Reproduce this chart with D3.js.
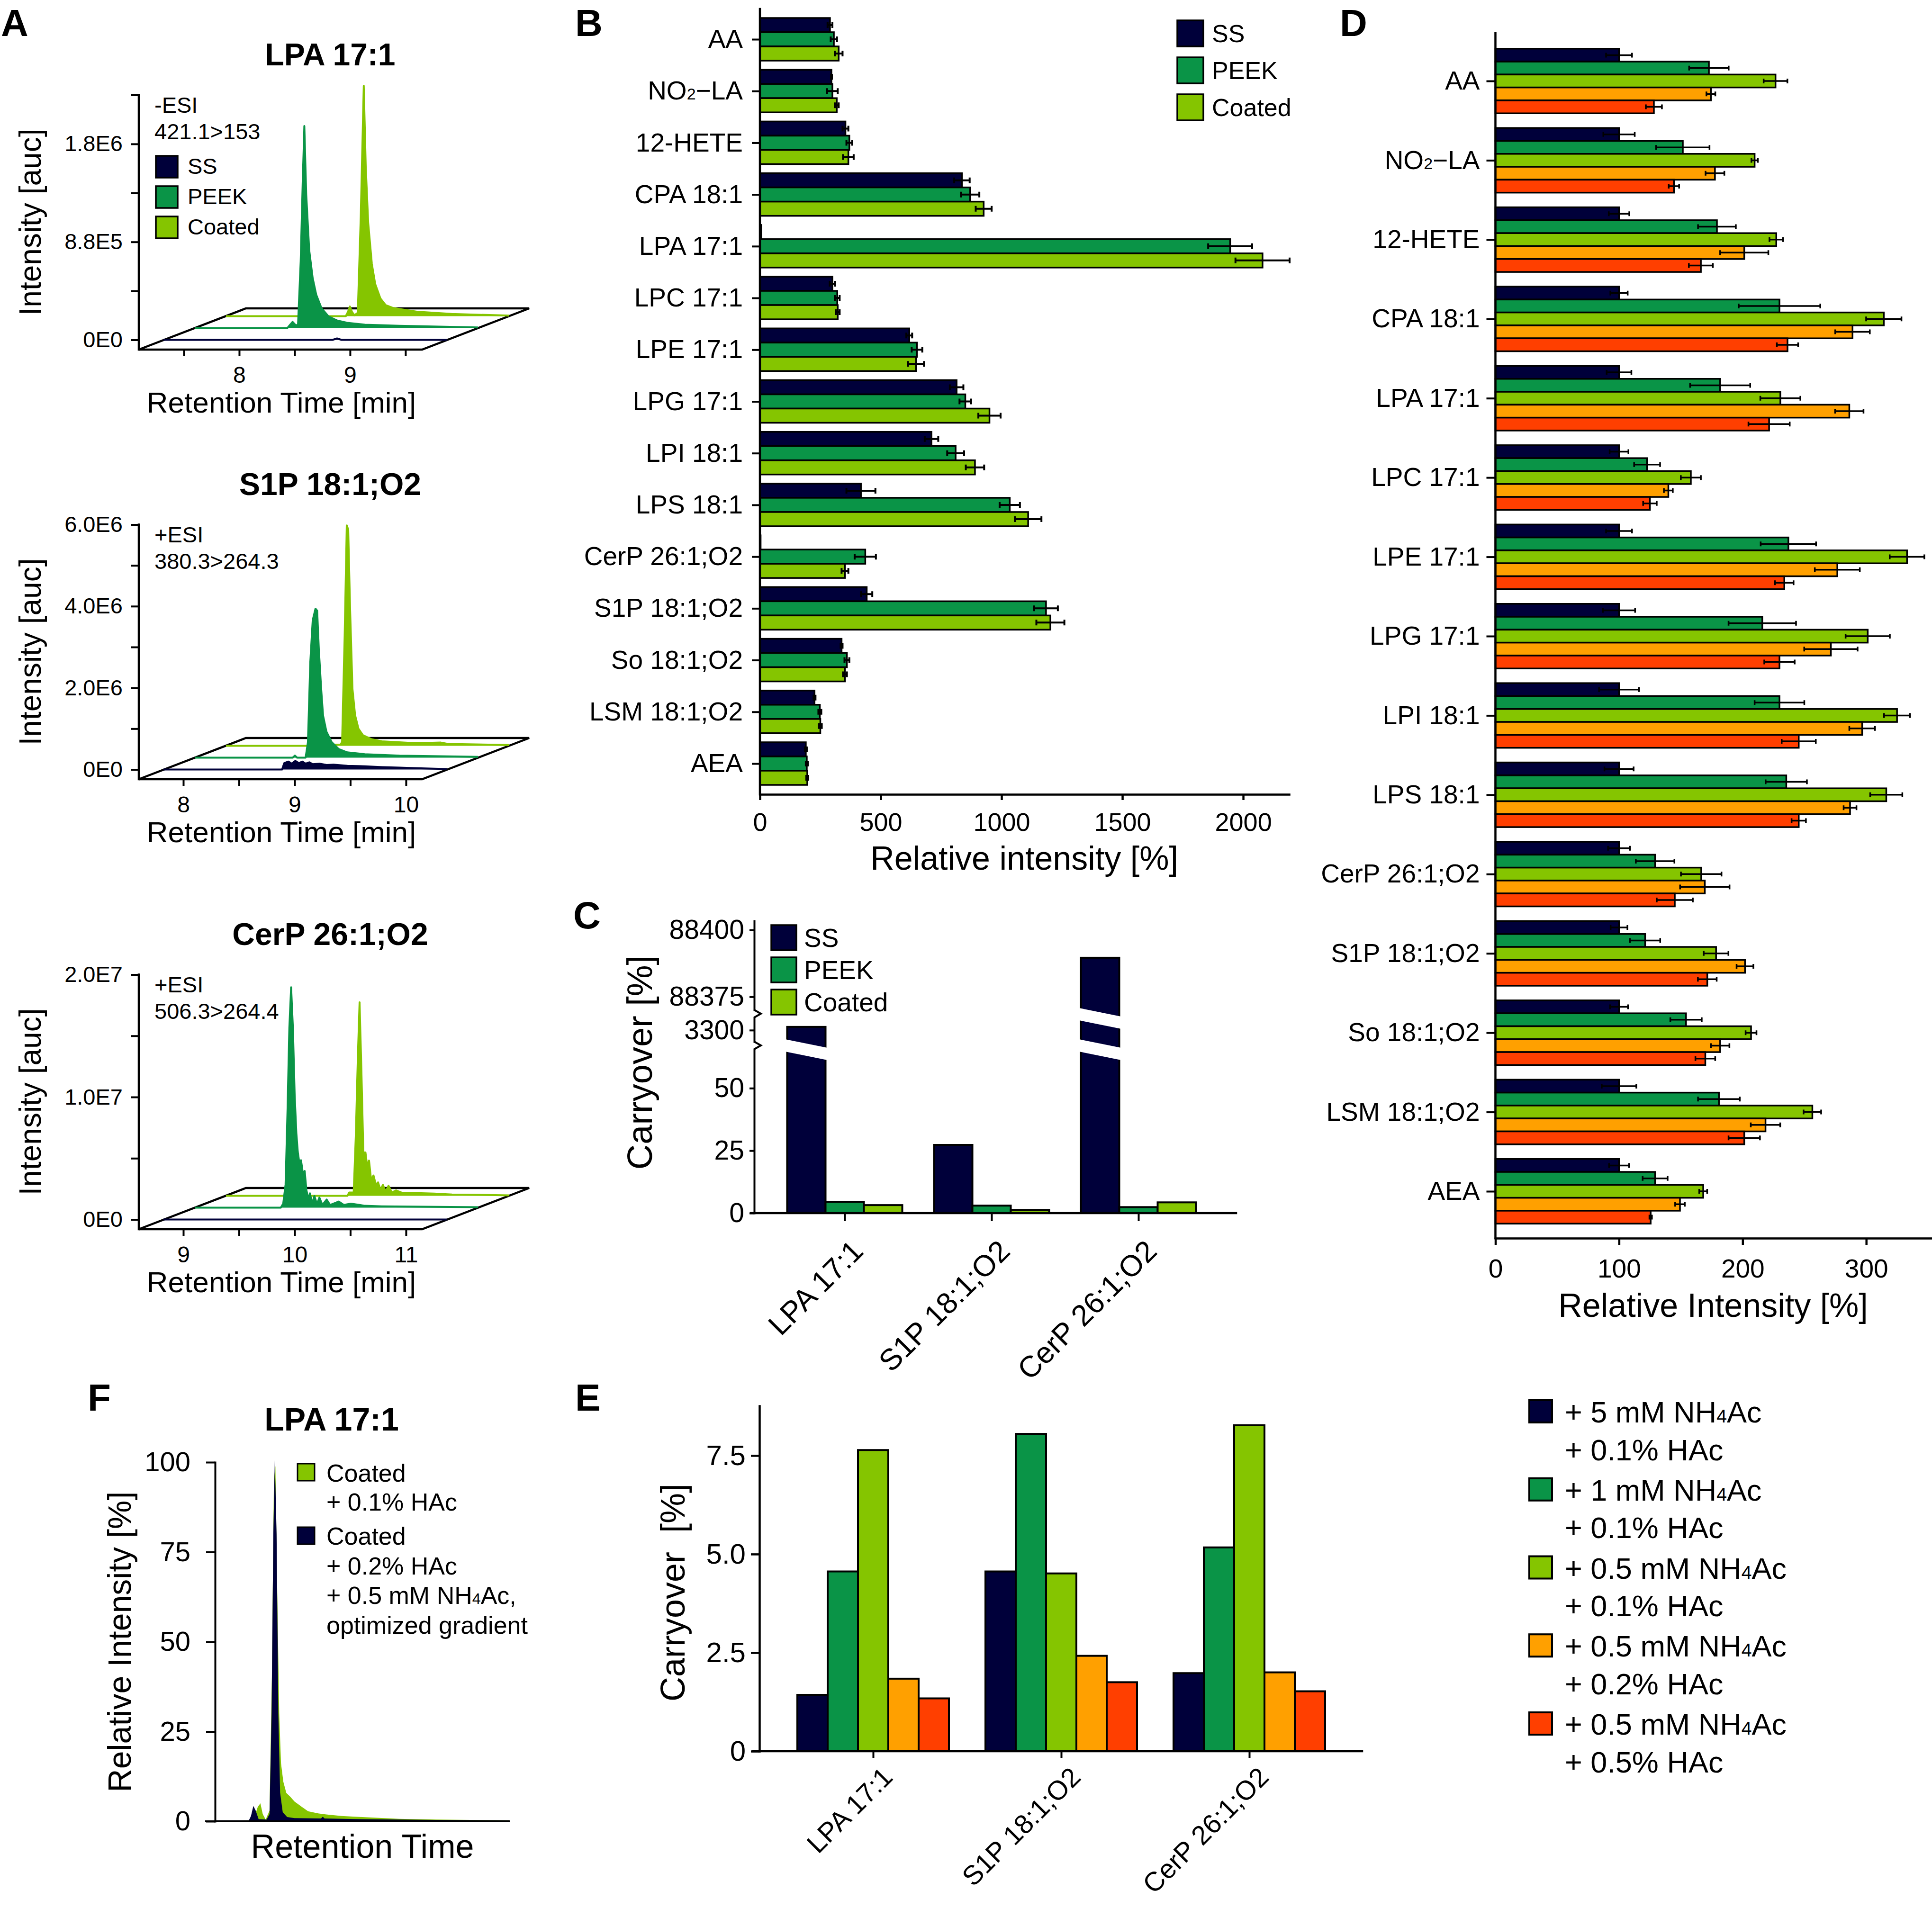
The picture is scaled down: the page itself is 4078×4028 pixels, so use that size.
<!DOCTYPE html>
<html>
<head>
<meta charset="utf-8">
<script src="https://cdn.jsdelivr.net/npm/d3@7/dist/d3.min.js"></script>
<style>
html,body{margin:0;padding:0;background:#fff;}
svg{display:block;}
</style>
</head>
<body>
<svg id="fig" width="4078" height="4028" xmlns="http://www.w3.org/2000/svg"></svg>
<script>
// ========================= DATA =========================
// ---- Panel A: chromatograms (time in min, intensity in units of 1E6)
const chromSeries = ["SS", "PEEK", "Coated"];
const chromTitles = ["LPA 17:1", "S1P 18:1;O2", "CerP 26:1;O2"];
const chromModes = ["-ESI", "+ESI", "+ESI"];
const chromTransitions = ["421.1>153", "380.3>264.3", "506.3>264.4"];
const chromTimeDomains = [[7.094, 9.65], [7.6, 10.145], [8.6, 11.145]];
const chromTimeTicks = [[7.5, 8, 8.5, 9, 9.5], [8, 8.5, 9, 9.5, 10], [9, 9.5, 10, 10.5, 11]];
const chromYMax = [2.2, 6, 20];
const chromYTicks = [[0, 0.44, 0.88, 1.32, 1.76, 2.2], [0, 1, 2, 3, 4, 5, 6], [0, 5, 10, 15, 20]];
const chromYLabels = [["0E0", "", "8.8E5", "", "1.8E6", ""], ["0E0", "", "2.0E6", "", "4.0E6", "", "6.0E6"], ["0E0", "", "1.0E7", "", "2.0E7"]];

const lpaSS = [[7.094,0],[8.62,0],[8.66,0.013],[8.70,0],[9.65,0]];
const lpaPEEK = [[7.094,0],[7.93,0],[7.955,0.03],[7.977,0.055],[8.0,0.03],[8.01,0.025],[8.026,0.03],[8.05,0.6],[8.068,1.3],[8.083,1.815],[8.10,1.2],[8.127,0.70],[8.158,0.45],[8.19,0.30],[8.237,0.18],[8.30,0.105],[8.38,0.067],[8.47,0.047],[8.63,0.03],[8.94,0.02],[9.65,0.005]];
const lpaCoated = [[7.094,0],[8.175,0],[8.195,0.04],[8.212,0.087],[8.23,0.04],[8.252,0.008],[8.283,0.03],[8.31,0.9],[8.337,2.07],[8.355,1.34],[8.377,0.84],[8.41,0.47],[8.44,0.29],[8.487,0.16],[8.534,0.10],[8.598,0.075],[8.675,0.062],[8.816,0.04],[9.13,0.02],[9.65,0.005]];

const s1pSS = [[7.6,0],[8.666,0],[8.685,0.156],[8.722,0.195],[8.753,0.143],[8.785,0.21],[8.816,0.156],[8.847,0.195],[8.878,0.143],[8.91,0.176],[8.94,0.13],[9.003,0.143],[9.066,0.11],[9.128,0.12],[9.253,0.09],[9.41,0.078],[9.565,0.059],[9.72,0.046],[9.877,0.033],[10.145,0.013]];
const s1pPEEK = [[7.6,0],[8.48,0],[8.50,0.05],[8.52,0],[8.596,0],[8.617,0.38],[8.638,2.33],[8.66,3.37],[8.685,3.65],[8.70,3.6],[8.715,2.66],[8.736,1.68],[8.753,1.03],[8.783,0.64],[8.83,0.38],[8.894,0.21],[8.97,0.13],[9.128,0.085],[9.44,0.05],[10.145,0.02]];
const s1pCoated = [[7.6,0],[8.536,0],[8.55,0.03],[8.63,0.03],[8.643,0.1],[8.666,2.7],[8.685,5.4],[8.698,5.3],[8.715,3.35],[8.736,1.4],[8.76,0.75],[8.79,0.42],[8.83,0.26],[8.91,0.16],[9.0,0.11],[9.31,0.065],[9.53,0.08],[9.6,0.045],[10.145,0.02]];

const cerpSS = [[8.6,0],[11.145,0]];
const cerpPEEK = [[8.6,0],[9.373,0],[9.395,0.33],[9.416,1.88],[9.434,8.08],[9.45,14.7],[9.466,18.0],[9.482,14.7],[9.498,9.18],[9.513,6.09],[9.526,4.54],[9.54,3.65],[9.555,3.87],[9.572,2.77],[9.588,2.99],[9.603,1.44],[9.622,0.66],[9.635,1.17],[9.654,0.33],[9.675,0.95],[9.698,0.29],[9.72,0.82],[9.747,0.22],[9.785,0.66],[9.816,0.22],[9.894,0.5],[9.94,0.22],[10.003,0.33],[10.13,0.15],[10.28,0.11],[11.145,0.04]];
const cerpCoated = [[8.6,0],[9.691,0],[9.707,0.27],[9.747,0.27],[9.766,4.87],[9.785,11.5],[9.80,15.8],[9.816,10.4],[9.834,3.54],[9.853,3.54],[9.868,2.43],[9.885,2.88],[9.903,1.33],[9.925,1.66],[9.947,0.89],[9.966,1.1],[9.987,0.49],[10.01,0.89],[10.034,0.33],[10.06,0.82],[10.09,0.27],[10.128,0.44],[10.19,0.22],[10.315,0.22],[10.47,0.18],[10.63,0.11],[11.145,0.04]];

// ---- Panel B: relative intensity [%]
const lipids = ["AA","NO₂−LA","12-HETE","CPA 18:1","LPA 17:1","LPC 17:1","LPE 17:1","LPG 17:1","LPI 18:1","LPS 18:1","CerP 26:1;O2","S1P 18:1;O2","So 18:1;O2","LSM 18:1;O2","AEA"];
const materials = ["SS", "PEEK", "Coated"];
const bSS     = [290,296,354,836,5,300,618,814,710,418,3,442,338,226,190];
const bPEEK   = [306,300,370,870,1946,320,650,850,810,1034,436,1184,360,248,194];
const bCoated = [326,318,366,926,2080,322,646,950,890,1110,352,1202,352,250,196];
const bSSErr     = [10,2,12,32,0,11,12,28,28,60,0,23,4,4,4];
const bPEEKErr   = [13,22,12,38,91,10,22,24,35,42,44,49,10,6,4];
const bCoatedErr = [16,8,22,33,112,8,33,46,38,55,14,58,8,6,4];
const bTicks = [0, 500, 1000, 1500, 2000];

// ---- Panel C: carryover [%]
const carryCats = ["LPA 17:1", "S1P 18:1;O2", "CerP 26:1;O2"];
const cSS     = [3301.3, 27.3, 88389.6];
const cPEEK   = [4.5, 3.0, 2.4];
const cCoated = [3.2, 1.3, 4.3];

// ---- Panel D: relative intensity [%] per eluent additive
const additiveLine1 = ["+ 5 mM NH₄Ac", "+ 1 mM NH₄Ac", "+ 0.5 mM NH₄Ac", "+ 0.5 mM NH₄Ac", "+ 0.5 mM NH₄Ac"];
const additiveLine2 = ["+ 0.1% HAc", "+ 0.1% HAc", "+ 0.1% HAc", "+ 0.2% HAc", "+ 0.5% HAc"];
const d5mM    = [100,100,100,100,100,100,100,100,100,100,100,100,100,100,100];
const d1mM    = [172.7,151.6,179.2,229.8,181.8,122.7,237,215.9,229.8,235.3,129.2,121.1,154.2,180.8,129.2];
const d05_01  = [226.6,209.7,227.2,314.2,230.5,158.1,333,301.2,324.9,316.2,166.5,178.5,206.8,256.4,168.1];
const d05_02  = [174.3,177.6,201.3,288.9,286.3,139.9,276.6,271.4,296.7,286.9,169.4,201.9,181.8,218.5,149.3];
const d05_05  = [128.2,144.4,166.2,236.3,221.4,125,233.7,229.8,245.4,245.4,145.1,171.4,169.8,201.3,125.6];
const d5mMErr   = [10.5,12.7,8.3,7,10,7.6,10.5,13,16.2,11.8,8.9,6.8,7.3,14,8.1];
const d1mMErr   = [16,21.6,15.3,33,24.3,10.5,22.4,27.3,20.1,16.7,15.6,12.2,12.7,16.9,10.1];
const d05_01Err = [9.6,2.6,5.5,14.3,16.2,8.1,14,17.9,10.5,13,16.4,10,4.4,7.1,3.2];
const d05_02Err = [3.6,7.6,19.5,14,11.5,3.6,18.2,21.6,10.4,5.2,20,6.8,7.5,11.9,3.9];
const d05_05Err = [6.5,4.2,9.7,8.6,16.7,5.5,7.5,12.3,13.8,5.8,14.6,7.6,8,12.7,1];
const dTicks = [0, 100, 200, 300];

// ---- Panel E: carryover [%] per eluent additive
const e5mM   = [1.43, 4.56, 1.98];
const e1mM   = [4.56, 8.05, 5.17];
const e05_01 = [7.64, 4.51, 8.27];
const e05_02 = [1.84, 2.42, 2.00];
const e05_05 = [1.34, 1.75, 1.52];
const eTicks = [0, 2.5, 5.0, 7.5];

// ---- Panel F: normalised chromatogram (relative intensity [%], arbitrary time)
const fLegend1 = ["Coated", "+ 0.1% HAc"];
const fLegend2 = ["Coated", "+ 0.2% HAc", "+ 0.5 mM NH₄Ac,", "optimized gradient"];
const fCoated01 = [[0,0.2],[1.2,0.3],[1.35,1.5],[1.45,4],[1.54,5],[1.62,2],[1.72,0.5],[1.85,3],[1.93,40],[2.0,95],[2.05,99],[2.1,70],[2.18,30],[2.24,16.2],[2.32,11],[2.42,7.9],[2.55,6.9],[2.7,5.5],[2.92,4.2],[3.16,2.8],[3.5,2.2],[3.78,1.9],[4.3,1.5],[5,1.2],[6.25,0.7],[7.48,0.5],[10,0.3]];
const fOptimized = [[0,0.3],[1.15,0.3],[1.22,1.5],[1.3,4.3],[1.38,3],[1.48,0.6],[1.75,0.5],[1.85,2],[1.92,30],[1.98,80],[2.03,101],[2.09,80],[2.15,30],[2.21,8],[2.3,2.5],[2.45,1.2],[2.7,0.9],[3.6,0.8],[3.66,1.3],[3.72,0.8],[5,0.6],[7.5,0.4],[10,0.3]];
const fTicks = [0, 25, 50, 75, 100];

// ========================= STYLE =========================
const FONT = "'Liberation Sans', Arial, Helvetica, sans-serif";
const C_NAVY = "#00003a", C_PEEK = "#0a9447", C_COAT = "#85c500", C_ORANGE = "#ffa000", C_RED = "#ff3f00";
const matColors = [C_NAVY, C_PEEK, C_COAT];
const addColors = [C_NAVY, C_PEEK, C_COAT, C_ORANGE, C_RED];

const svg = d3.select("#fig");
svg.append("rect").attr("width", 4078).attr("height", 4028).attr("fill", "#fff");

function rich(t, s) {
  t.text(null);
  const subs = "₀₁₂₃₄₅₆₇₈₉";
  String(s).split(/([₀-₉])/).forEach(p => {
    if (!p) return;
    const k = subs.indexOf(p);
    if (k >= 0) t.append("tspan").style("font-size", "0.62em").text(String(k));
    else t.append("tspan").text(p);
  });
}
function addText(g, x, y, s, size, o = {}) {
  const t = g.append("text").attr("x", x).attr("y", y)
    .attr("font-size", size).attr("font-family", FONT).attr("fill", "#000");
  if (o.anchor) t.attr("text-anchor", o.anchor);
  if (o.weight) t.attr("font-weight", o.weight);
  if (o.rotate != null) t.attr("transform", `rotate(${o.rotate},${x},${y})`);
  rich(t, s);
  return t;
}
function fixAxis(g, fs, sw) {
  g.attr("font-size", fs).attr("font-family", FONT);
  g.selectAll("path.domain").attr("stroke", "#000").attr("stroke-width", sw).attr("stroke-linecap", "square");
  g.selectAll(".tick line").attr("stroke", "#000").attr("stroke-width", sw);
  g.selectAll(".tick text").attr("fill", "#000").each(function () { rich(d3.select(this), d3.select(this).text()); });
}
function vline(g, x, y1, y2, sw) {
  g.append("line").attr("x1", x).attr("x2", x).attr("y1", y1).attr("y2", y2)
    .attr("stroke", "#000").attr("stroke-width", sw).attr("stroke-linecap", "square");
}
function hline(g, x1, x2, y, sw) {
  g.append("line").attr("x1", x1).attr("x2", x2).attr("y1", y).attr("y2", y)
    .attr("stroke", "#000").attr("stroke-width", sw).attr("stroke-linecap", "square");
}
function swatch(g, x, y, w, h, fill, sw) {
  g.append("rect").attr("x", x).attr("y", y).attr("width", w).attr("height", h)
    .attr("fill", fill).attr("stroke", "#000").attr("stroke-width", sw);
}
function rotateLabels(axisG, dx, dy) {
  axisG.selectAll(".tick text").attr("text-anchor", "end").attr("dy", null)
    .attr("x", dx).attr("y", dy).attr("transform", `rotate(-45,${dx},${dy})`);
}

// ---- Panel labels
[["A", 2, 76], ["B", 1214, 76], ["C", 1210, 1960], ["D", 2828, 76], ["E", 1214, 2978], ["F", 185, 2978]]
  .forEach(([s, x, y]) => addText(svg, x, y, s, 80, { weight: "bold" }));

// ========================= PANEL A =========================
const AX0 = 293, AX1 = 891, FLOOR_DX = 226, FLOOR_DY = 87;
const depthDX = [52, 118, 184], depthDY = [0, -25, -50];
function chromPanel(k, yf, traces) {
  const g = svg.append("g");
  const t = d3.scaleLinear().domain(chromTimeDomains[k]).range([AX0, AX1]);
  const y0 = yf - 20.5;
  const y = d3.scaleLinear().domain([0, chromYMax[k]]).range([y0, y0 - 517]);
  g.append("path")
    .attr("d", `M${AX0},${yf}L${AX1},${yf}L${AX1 + FLOOR_DX},${yf - FLOOR_DY}L${AX0 + FLOOR_DX},${yf - FLOOR_DY}Z`)
    .attr("fill", "none").attr("stroke", "#000").attr("stroke-width", 4.5).attr("stroke-linejoin", "miter");
  [2, 1, 0].forEach(s => {
    const dx = depthDX[s], dy = depthDY[s];
    const area = d3.area().x(d => t(d[0]) + dx).y0(y0 + dy).y1(d => y(d[1]) + dy);
    const line = d3.line().x(d => t(d[0]) + dx).y(d => y(d[1]) + dy);
    g.append("path").datum(traces[s]).attr("d", area).attr("fill", matColors[s]);
    g.append("path").datum(traces[s]).attr("d", line).attr("fill", "none")
      .attr("stroke", matColors[s]).attr("stroke-width", 4).attr("stroke-linejoin", "round");
  });
  const ya = g.append("g").attr("transform", `translate(${AX0},0)`)
    .call(d3.axisLeft(y).tickValues(chromYTicks[k]).tickFormat((d, i) => chromYLabels[k][i])
      .tickSize(16).tickPadding(18).tickSizeOuter(0));
  ya.select(".domain").remove();
  fixAxis(ya, 47, 4);
  vline(g, AX0, y(chromYMax[k]), yf, 4.5);
  const xa = g.append("g").attr("transform", `translate(0,${yf})`)
    .call(d3.axisBottom(t).tickValues(chromTimeTicks[k]).tickFormat(d => (d % 1 === 0 ? d : ""))
      .tickSize(14).tickPadding(22).tickSizeOuter(0));
  xa.select(".domain").remove();
  fixAxis(xa, 48, 4);
  addText(g, 697, yf - 600, chromTitles[k], 66, { anchor: "middle", weight: "bold" });
  addText(g, 326, yf - 500, chromModes[k], 47);
  addText(g, 326, yf - 444, chromTransitions[k], 47);
  addText(g, 86, yf - 269, "Intensity [auc]", 64, { anchor: "middle", rotate: -90 });
  addText(g, 594, yf + 133, "Retention Time [min]", 62, { anchor: "middle" });
  return g;
}
const gA1 = chromPanel(0, 738, [lpaSS, lpaPEEK, lpaCoated]);
chromPanel(1, 1645, [s1pSS, s1pPEEK, s1pCoated]);
chromPanel(2, 2595, [cerpSS, cerpPEEK, cerpCoated]);
chromSeries.forEach((s, i) => {
  const top = 738 - 409 + i * 64;
  swatch(gA1, 329, top, 46, 46, matColors[i], 3.5);
  addText(gA1, 396, top + 38, s, 47);
});

// ========================= PANEL B =========================
(function () {
  const g = svg.append("g");
  const y = d3.scalePoint().domain(lipids).range([83, 1612]);
  const x = d3.scaleLinear().domain([0, 2190]).range([1604, 2721]);
  const vals = [bSS, bPEEK, bCoated], errs = [bSSErr, bPEEKErr, bCoatedErr];
  const BH = 30;
  lipids.forEach((c, i) => {
    vals.forEach((arr, s) => {
      const top = y(c) - 1.5 * BH + s * BH;
      g.append("rect").attr("x", x(0)).attr("y", top).attr("width", Math.max(0, x(arr[i]) - x(0))).attr("height", BH)
        .attr("fill", matColors[s]).attr("stroke", "#000").attr("stroke-width", 3.5);
    });
  });
  lipids.forEach((c, i) => {
    vals.forEach((arr, s) => {
      const e = errs[s][i];
      if (!e) return;
      const yc = y(c) - 1.5 * BH + s * BH + BH / 2;
      const x1 = x(arr[i] - e), x2 = x(arr[i] + e);
      g.append("path").attr("d", `M${x1},${yc}H${x2}M${x1},${yc - 6}V${yc + 6}M${x2},${yc - 6}V${yc + 6}`)
        .attr("stroke", "#000").attr("stroke-width", 4).attr("fill", "none");
    });
  });
  const ya = g.append("g").attr("transform", `translate(${x(0)},0)`)
    .call(d3.axisLeft(y).tickSize(17).tickPadding(19).tickSizeOuter(0));
  ya.select(".domain").remove();
  fixAxis(ya, 55, 4);
  vline(g, x(0), 19, 1677, 4.5);
  const xa = g.append("g").attr("transform", "translate(0,1677)")
    .call(d3.axisBottom(x).tickValues(bTicks).tickFormat(d3.format("d")).tickSize(12).tickPadding(27).tickSizeOuter(0));
  fixAxis(xa, 54, 4.5);
  addText(g, 2162, 1836, "Relative intensity [%]", 70, { anchor: "middle" });
  materials.forEach((m, i) => {
    const top = 43 + i * 78;
    swatch(g, 2485, top, 55, 55, matColors[i], 3.5);
    addText(g, 2558, top + 46, m, 52);
  });
})();

// ========================= PANEL C =========================
(function () {
  const g = svg.append("g");
  const x = d3.scalePoint().domain(carryCats).range([1783, 2403]);
  const yLow = d3.scaleLinear().domain([0, 65.6]).range([2561, 2215]);
  const yMid = d3.scaleLinear().domain([3295.5, 3305.0]).range([2199, 2148]);
  const yTop = d3.scaleLinear().domain([88370.1, 88403.4]).range([2132, 1944]);
  const yv = v => (v <= 65.6 ? yLow(v) : (v <= 3305 ? yMid(v) : yTop(v)));
  const vals = [cSS, cPEEK, cCoated];
  const BW = 81;
  carryCats.forEach((c, i) => {
    vals.forEach((arr, s) => {
      const x0 = x(c) - 1.5 * BW + s * BW;
      const yt = yv(arr[i]);
      g.append("rect").attr("x", x0).attr("y", yt).attr("width", BW).attr("height", yLow(0) - yt)
        .attr("fill", matColors[s]).attr("stroke", "#000").attr("stroke-width", 4);
      const breaks = [];
      if (arr[i] > 65.6) breaks.push((yLow.range()[1] + yMid.range()[0]) / 2 + 9);
      if (arr[i] > 3305) breaks.push((yMid.range()[1] + yTop.range()[0]) / 2 + 10);
      breaks.forEach(bc => {
        const sl = 9, half = 13, xa0 = x0 - 4, xa1 = x0 + BW + 4;
        g.append("path")
          .attr("d", `M${xa0},${bc - sl - half}L${xa1},${bc + sl - half}L${xa1},${bc + sl + half}L${xa0},${bc - sl + half}Z`)
          .attr("fill", "#fff");
      });
    });
  });
  [[yLow, [0, 25, 50]], [yMid, [3300]], [yTop, [88375, 88400]]].forEach(([sc, tv]) => {
    const a = g.append("g").attr("transform", "translate(1592,0)")
      .call(d3.axisLeft(sc).tickValues(tv).tickSize(10).tickPadding(11).tickSizeOuter(0).tickFormat(d3.format("d")));
    fixAxis(a, 57, 4);
  });
  [[2199, 2215], [2132, 2148]].forEach(([a, b]) => {
    g.append("path").attr("d", `M1592,${a}L1606,${(a + b) / 2}L1592,${b}`)
      .attr("fill", "none").attr("stroke", "#000").attr("stroke-width", 4);
  });
  const xa = g.append("g").attr("transform", "translate(0,2561)")
    .call(d3.axisBottom(x).tickSize(17).tickSizeOuter(0));
  xa.select(".domain").remove();
  fixAxis(xa, 63, 4);
  rotateLabels(xa, 42, 84);
  hline(g, 1585, 2609, 2561, 4.5);
  addText(g, 1376, 2243, "Carryover [%]", 74, { anchor: "middle", rotate: -90 });
  materials.forEach((m, i) => {
    const top = 1953 + i * 68;
    swatch(g, 1628, top, 53, 53, matColors[i], 3.5);
    addText(g, 1697, top + 46, m, 55);
  });
})();

// ========================= PANEL D =========================
(function () {
  const g = svg.append("g");
  const y = d3.scalePoint().domain(lipids).range([171, 2515]);
  const x = d3.scaleLinear().domain([0, 353.2]).range([3156.5, 4078]);
  const vals = [d5mM, d1mM, d05_01, d05_02, d05_05];
  const errs = [d5mMErr, d1mMErr, d05_01Err, d05_02Err, d05_05Err];
  const BH = 27.3;
  lipids.forEach((c, i) => {
    vals.forEach((arr, s) => {
      const top = y(c) - 2.5 * BH + s * BH;
      g.append("rect").attr("x", x(0)).attr("y", top).attr("width", x(arr[i]) - x(0)).attr("height", BH)
        .attr("fill", addColors[s]).attr("stroke", "#000").attr("stroke-width", 3.5);
    });
  });
  lipids.forEach((c, i) => {
    vals.forEach((arr, s) => {
      const e = errs[s][i];
      const yc = y(c) - 2.5 * BH + s * BH + BH / 2;
      const x1 = x(arr[i] - e), x2 = x(arr[i] + e);
      g.append("path").attr("d", `M${x1},${yc}H${x2}M${x1},${yc - 5}V${yc + 5}M${x2},${yc - 5}V${yc + 5}`)
        .attr("stroke", "#000").attr("stroke-width", 3.5).attr("fill", "none");
    });
  });
  const ya = g.append("g").attr("transform", `translate(${x(0)},0)`)
    .call(d3.axisLeft(y).tickSize(19).tickPadding(14).tickSizeOuter(0));
  ya.select(".domain").remove();
  fixAxis(ya, 55, 4);
  vline(g, x(0), 70, 2614, 4.5);
  const xa = g.append("g").attr("transform", "translate(0,2614)")
    .call(d3.axisBottom(x).tickValues(dTicks).tickSize(14).tickPadding(30).tickSizeOuter(0));
  fixAxis(xa, 55, 4.5);
  addText(g, 3616, 2780, "Relative Intensity [%]", 70, { anchor: "middle" });
})();

// ========================= PANEL E =========================
(function () {
  const g = svg.append("g");
  const x = d3.scalePoint().domain(carryCats).range([1843, 2637]);
  const y = d3.scaleLinear().domain([0, 8.76]).range([3697, 2968]);
  const vals = [e5mM, e1mM, e05_01, e05_02, e05_05];
  const BW = 64;
  carryCats.forEach((c, i) => {
    vals.forEach((arr, s) => {
      const x0 = x(c) - 2.5 * BW + s * BW;
      g.append("rect").attr("x", x0).attr("y", y(arr[i])).attr("width", BW).attr("height", y(0) - y(arr[i]))
        .attr("fill", addColors[s]).attr("stroke", "#000").attr("stroke-width", 4);
    });
  });
  const ya = g.append("g").attr("transform", "translate(1603,0)")
    .call(d3.axisLeft(y).tickValues(eTicks).tickFormat(d => (d === 0 ? "0" : d.toFixed(1))).tickSize(18).tickPadding(11).tickSizeOuter(0));
  fixAxis(ya, 60, 4.5);
  const xa = g.append("g").attr("transform", "translate(0,3697)")
    .call(d3.axisBottom(x).tickSize(14).tickSizeOuter(0));
  xa.select(".domain").remove();
  fixAxis(xa, 57, 4);
  rotateLabels(xa, 44, 58);
  hline(g, 1590, 2875, 3697, 4.5);
  addText(g, 1445, 3362, "Carryover\u00a0\u00a0[%]", 72, { anchor: "middle", rotate: -90 });
  additiveLine1.forEach((s, i) => {
    const top = 2956 + i * 164.75;
    swatch(g, 3228, top, 48, 47, addColors[i], 4);
    addText(g, 3303, top + 47, s, 63);
    addText(g, 3303, top + 126.5, additiveLine2[i], 63);
  });
})();

// ========================= PANEL F =========================
(function () {
  const g = svg.append("g");
  const x = d3.scaleLinear().domain([0, 10]).range([454, 1075]);
  const y = d3.scaleLinear().domain([0, 100]).range([3845, 3087]);
  const area = d3.area().x(d => x(d[0])).y0(y(0)).y1(d => y(d[1]));
  g.append("path").datum(fCoated01).attr("d", area).attr("fill", C_COAT);
  g.append("path").datum(fOptimized).attr("d", area).attr("fill", C_NAVY);
  const ya = g.append("g").attr("transform", "translate(454,0)")
    .call(d3.axisLeft(y).tickValues(fTicks).tickSize(19).tickPadding(33).tickSizeOuter(0));
  fixAxis(ya, 58, 4);
  hline(g, 435, 1075, 3845, 4);
  addText(g, 700, 3020, "LPA 17:1", 68, { anchor: "middle", weight: "bold" });
  addText(g, 276, 3466, "Relative Intensity [%]", 68, { anchor: "middle", rotate: -90 });
  addText(g, 765, 3922, "Retention Time", 70, { anchor: "middle" });
  swatch(g, 628, 3090, 36, 36, C_COAT, 3);
  addText(g, 689, 3128, fLegend1[0], 52);
  addText(g, 689, 3189, fLegend1[1], 52);
  swatch(g, 628, 3224, 36, 36, C_NAVY, 3);
  fLegend2.forEach((s, i) => addText(g, 689, 3261 + i * 62.7, s, 52));
})();
</script>
</body>
</html>
